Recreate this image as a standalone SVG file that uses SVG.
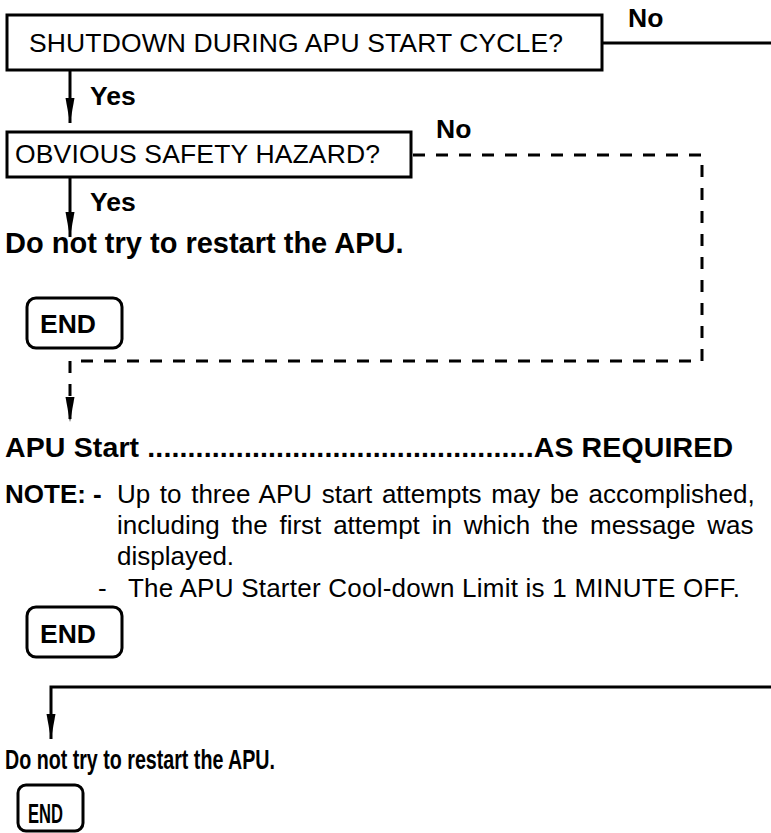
<svg xmlns="http://www.w3.org/2000/svg" width="771" height="833" viewBox="0 0 771 833">
<defs>
<style>
.box{fill:#fff;stroke:#000;stroke-width:3}
.end{fill:#fff;stroke:#000;stroke-width:3}
.ln{fill:none;stroke:#000;stroke-width:3}
.dash{fill:none;stroke:#000;stroke-width:3;stroke-dasharray:12 11}
.t{font-family:"Liberation Sans",Arial,sans-serif;fill:#000}
.b{font-family:"Liberation Sans",Arial,sans-serif;font-weight:bold;fill:#000}
</style>
<marker id="ah" viewBox="0 -5 26 10" refX="25" refY="0" markerWidth="26" markerHeight="10" markerUnits="userSpaceOnUse" orient="auto">
<path d="M0,-4.5 L25,0 L0,4.5 z" fill="#000"/>
</marker>
</defs>
<rect width="771" height="833" fill="#fff"/>
<g id="connectors">
<path class="ln" d="M70,71 L70,123" marker-end="url(#ah)"/>
<path class="ln" d="M603,43 L771,43"/>
<path class="ln" d="M70,178 L70,237" marker-end="url(#ah)"/>
<path class="dash" d="M413,155 L702,155 L702,361 L70,361 L70,422" marker-end="url(#ah)"/>
<path class="ln" d="M771,687 L51,687 L51,739" marker-end="url(#ah)"/>
</g>
<g id="q1">
<rect class="box" x="7" y="15" width="595" height="55"/>
<text class="t" x="29" y="52" font-size="26.5" textLength="534">SHUTDOWN DURING APU START CYCLE?</text>
</g>
<text id="no1" class="b" x="628" y="27" font-size="26.5">No</text>
<text id="yes1" class="b" x="90" y="105" font-size="26.5">Yes</text>
<g id="q2">
<rect class="box" x="7" y="132" width="404" height="45"/>
<text class="t" x="15" y="163" font-size="26.5" textLength="365">OBVIOUS SAFETY HAZARD?</text>
</g>
<text id="no2" class="b" x="436" y="138" font-size="26.5">No</text>
<text id="yes2" class="b" x="90" y="211" font-size="26.5">Yes</text>
<text id="act1" class="b" x="5" y="253" font-size="29">Do not try to restart the APU.</text>
<g id="end1">
<rect class="end" x="27" y="298" width="95" height="50" rx="9"/>
<text class="b" x="40" y="333" font-size="26.5">END</text>
</g>
<text id="step" class="b" x="5" y="457" font-size="28.5" textLength="728">APU Start ................................................AS REQUIRED</text>
<g id="note">
<text class="b" x="5" y="503" font-size="26">NOTE: -</text>
<text class="t" x="117" y="503" font-size="26" word-spacing="2.4">Up to three APU start attempts may be accomplished,</text>
<text class="t" x="117" y="534" font-size="26" word-spacing="4.6">including the first attempt in which the message was</text>
<text class="t" x="117" y="565" font-size="26">displayed.</text>
<text class="t" x="98" y="597" font-size="26">-</text>
<text class="t" x="128" y="597" font-size="26" textLength="612">The APU Starter Cool-down Limit is 1 MINUTE OFF.</text>
</g>
<g id="end2">
<rect class="end" x="27" y="607" width="95" height="50" rx="9"/>
<text class="b" x="40" y="643" font-size="26.5">END</text>
</g>
<text id="act2" class="b" x="5" y="769" font-size="28" textLength="270" lengthAdjust="spacingAndGlyphs">Do not try to restart the APU.</text>
<g id="end3">
<rect class="end" x="18" y="785" width="65" height="46" rx="8"/>
<text class="b" x="28" y="823" font-size="28" textLength="35" lengthAdjust="spacingAndGlyphs">END</text>
</g>
</svg>
